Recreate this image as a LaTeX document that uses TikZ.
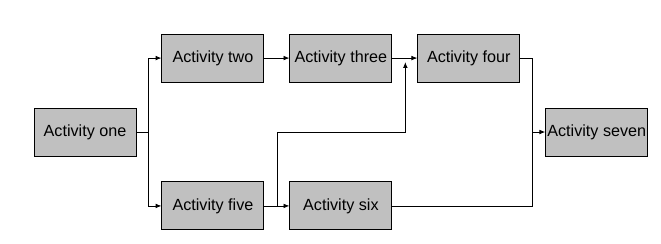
\documentclass[tikz,border=0pt]{standalone}
\usepackage{fontspec}
\setmainfont{Liberation Sans}
\usetikzlibrary{calc}
\usetikzlibrary{positioning}
\usetikzlibrary{arrows.meta}
\tikzset{
	>={Latex[length=5pt,width=4pt]},
	activity/.style={
		rectangle,
		fill={rgb,255:red,192;green,192;blue,192},
		draw=black, line width=0.8pt,
		minimum width=3.06cm,
		minimum height=1.44cm,
		inner sep=0pt,
		font=\fontsize{13.8}{15}\selectfont,
		text centered},
	line/.style={draw, line width=0.7pt},
	arrow/.style={line, ->},
}

\begin{document}
\begin{tikzpicture}
			[node distance=.75cm and .75cm]
			\useasboundingbox (-2.55,-3.33) rectangle (17.28,3.96);
			\node[activity] at (0,0) (one) {Activity one};
			\node[activity, above right=of one] (two) {Activity two};
			\node[activity, right=of two] (three) {Activity three};
			\node[activity, right=of three] (four) {Activity four};
			\node[activity, below right=of one] (five) {Activity five};
			\node[activity, right=of five] (six) {Activity six};
			\node[activity, below right=of four] (seven) {Activity seven};
			
			% branch and merge points
			\coordinate (split) at ($(one.east)+(.36cm,0)$);
			\coordinate (fork) at ($(five.east)+(.39cm,0)$);
			\coordinate (merge) at ($(three.east)+(.39cm,-.12cm)$);
			\coordinate (bend) at (merge |- one);
			\coordinate (join) at ($(seven.west)+(-.39cm,0)$);
			
			\draw[line] (one.east) -- (split);
			\draw[arrow] (split) |- (two.west);
			\draw[arrow] (split) |- (five.west);
			\draw[arrow] (two) -- (three);
			\draw[arrow] (three) -- (four);
			\draw[arrow] (five) -- (six);
			\draw[arrow] (fork) |- (bend) -- (merge);
			\draw[line] (four.east) -| (join);
			\draw[line] (six.east) -| (join);
			\draw[arrow] (join) -- (seven.west);
			
			\end{tikzpicture}
\end{document}
